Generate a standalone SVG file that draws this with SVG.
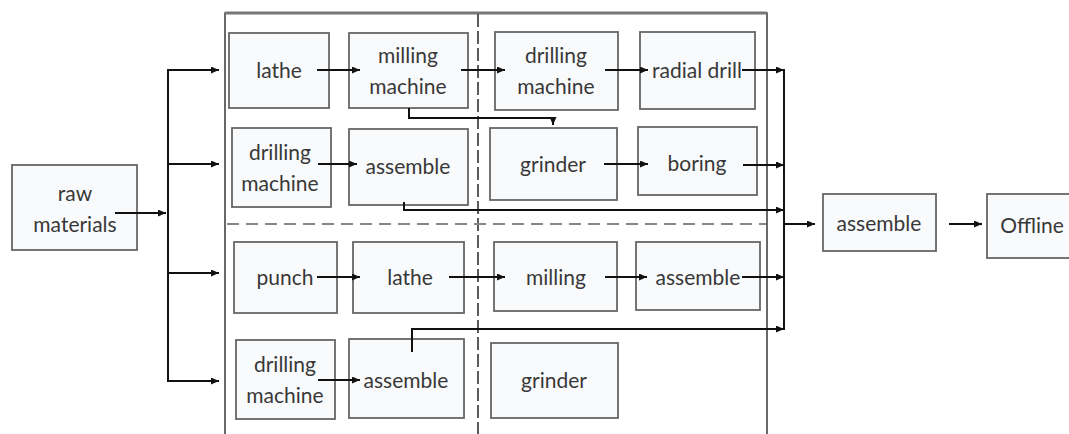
<svg xmlns="http://www.w3.org/2000/svg" width="1069" height="434" viewBox="0 0 1069 434">
<defs>
<marker id="ah" markerUnits="userSpaceOnUse" markerWidth="9" markerHeight="8" refX="8" refY="3.5" orient="auto">
<path d="M0,0 L8,3.5 L0,7 z" fill="#111"/>
</marker>
<style>
.box{fill:#f8fafc;stroke:#666;stroke-width:1.8}
.t{font-family:Lato,"Liberation Sans",sans-serif;font-size:21px;fill:#383838;text-anchor:middle}
.c{fill:none;stroke:#111;stroke-width:2}
.a{marker-end:url(#ah)}
</style>
</defs>
<rect width="1069" height="434" fill="#fff"/>
<g id="frame">
<path d="M225,434 V13 H767 V434" fill="none" stroke="#444" stroke-width="1.6"/>
<line x1="225" y1="13" x2="767" y2="13" stroke="#777" stroke-width="3"/>
<line x1="478" y1="14" x2="478" y2="434" stroke="#333" stroke-width="1.6" stroke-dasharray="13,4"/>
<line x1="227" y1="224" x2="766" y2="224" stroke="#888" stroke-width="2" stroke-dasharray="12,7"/>
</g>
<g id="raw"><rect class="box" x="12" y="165" width="125" height="85"/><text class="t" x="75" y="201">raw</text><text class="t" x="75" y="232">materials</text></g>
<g id="r1lathe"><rect class="box" x="229" y="33" width="100" height="75"/><text class="t" x="279" y="78">lathe</text></g>
<g id="r1mill"><rect class="box" x="349" y="33" width="119" height="75"/><text class="t" x="408" y="63">milling</text><text class="t" x="408" y="94">machine</text></g>
<g id="r1drill"><rect class="box" x="495" y="32" width="123" height="78"/><text class="t" x="556" y="63">drilling</text><text class="t" x="556" y="94">machine</text></g>
<g id="r1radial"><rect class="box" x="640" y="32" width="115" height="77"/><text class="t" x="697" y="78">radial drill</text></g>
<g id="r2drill"><rect class="box" x="232" y="128" width="99" height="79"/><text class="t" x="280" y="160">drilling</text><text class="t" x="280" y="191">machine</text></g>
<g id="r2asm"><rect class="box" x="349" y="129" width="119" height="76"/><text class="t" x="408" y="174">assemble</text></g>
<g id="r2grinder"><rect class="box" x="490" y="128" width="127" height="72"/><text class="t" x="553" y="172">grinder</text></g>
<g id="r2boring"><rect class="box" x="638" y="127" width="119" height="68"/><text class="t" x="697" y="171">boring</text></g>
<g id="r3punch"><rect class="box" x="234" y="242" width="103" height="71"/><text class="t" x="285" y="285">punch</text></g>
<g id="r3lathe"><rect class="box" x="353" y="242" width="111" height="71"/><text class="t" x="410" y="285">lathe</text></g>
<g id="r3mill"><rect class="box" x="494" y="242" width="123" height="69"/><text class="t" x="556" y="285">milling</text></g>
<g id="r3asm"><rect class="box" x="636" y="242" width="124" height="68"/><text class="t" x="698" y="285">assemble</text></g>
<g id="r4drill"><rect class="box" x="236" y="340" width="99" height="79"/><text class="t" x="285" y="372">drilling</text><text class="t" x="285" y="403">machine</text></g>
<g id="r4asm"><rect class="box" x="349" y="339" width="115" height="79"/><text class="t" x="406" y="388">assemble</text></g>
<g id="r4grinder"><rect class="box" x="491" y="343" width="127" height="75"/><text class="t" x="554" y="388">grinder</text></g>
<g id="asmFinal"><rect class="box" x="823" y="194" width="113" height="57"/><text class="t" x="879" y="231">assemble</text></g>
<g id="offline"><rect class="box" x="987" y="194" width="95" height="64"/><text class="t" x="1032" y="233">Offline</text></g>
<g id="connectors">
<line class="c a" x1="115" y1="213" x2="166" y2="213"/>
<line class="c" x1="168" y1="69" x2="168" y2="382"/>
<line class="c a" x1="167" y1="70" x2="219" y2="70"/>
<line class="c a" x1="167" y1="164" x2="219" y2="164"/>
<line class="c a" x1="167" y1="273" x2="219" y2="273"/>
<line class="c a" x1="167" y1="381" x2="219" y2="381"/>
<line class="c a" x1="317" y1="70" x2="360" y2="70"/>
<line class="c a" x1="461" y1="70" x2="505" y2="70"/>
<line class="c a" x1="605" y1="70" x2="648" y2="70"/>
<line class="c a" x1="742" y1="70" x2="784" y2="70"/>
<path class="c a" d="M409,108 V118 H553 V125"/>
<line class="c a" x1="318" y1="164" x2="357" y2="164"/>
<line class="c a" x1="604" y1="164" x2="648" y2="164"/>
<line class="c a" x1="743" y1="165" x2="784" y2="165"/>
<path class="c a" d="M404,202 V210 H784"/>
<line class="c a" x1="317" y1="277" x2="360" y2="277"/>
<line class="c a" x1="449" y1="277" x2="505" y2="277"/>
<line class="c a" x1="605" y1="277" x2="647" y2="277"/>
<line class="c a" x1="742" y1="277" x2="784" y2="277"/>
<path class="c a" d="M412,352 V329 H784"/>
<line class="c a" x1="318" y1="380" x2="360" y2="380"/>
<line class="c" x1="784" y1="69" x2="784" y2="330"/>
<line class="c a" x1="784" y1="224" x2="815" y2="224"/>
<line class="c a" x1="949" y1="224" x2="982" y2="224"/>
</g>
</svg>
